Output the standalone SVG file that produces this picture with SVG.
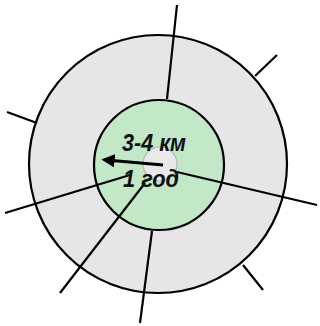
<svg xmlns="http://www.w3.org/2000/svg" width="320" height="326" viewBox="0 0 320 326">
<defs>
<style>
.ring{stroke:#000;stroke-width:2.2}
.ln{stroke:#000;stroke-width:2.2;fill:none;stroke-linecap:butt}
.lbl{font-family:"Liberation Sans",Arial,sans-serif;font-style:italic;font-weight:bold;fill:#111}
</style>
<marker id="ah" viewBox="0 0 10 10" refX="2" refY="5" markerWidth="4.2" markerHeight="4.2" orient="auto" markerUnits="strokeWidth">
<path d="M0,0 L10,5 L0,10 z" fill="#000"/>
</marker>
</defs>
<rect width="320" height="326" fill="#fff"/>
<g id="outer"><circle class="ring" cx="158" cy="164" r="129" fill="#e6e6e6"/></g>
<g id="inner"><circle class="ring" cx="159" cy="165" r="65" fill="#c2e8c8"/></g>
<g id="center"><circle cx="160" cy="164" r="17" fill="#e9e9e9" stroke="#b8b8b8" stroke-width="1.2"/></g>
<g id="connectors">
<line class="ln" x1="177" y1="5" x2="167" y2="99"/>
<line class="ln" x1="277" y1="55" x2="255" y2="76"/>
<line class="ln" x1="7" y1="112" x2="37" y2="123"/>
<line class="ln" x1="177" y1="172" x2="317" y2="205"/>
<line class="ln" x1="5" y1="213" x2="130" y2="175"/>
<line class="ln" x1="60" y1="293" x2="145" y2="183"/>
<line class="ln" x1="152" y1="231" x2="140" y2="323"/>
<line class="ln" x1="263" y1="290" x2="243" y2="265"/>
<line x1="163" y1="165" x2="112" y2="160.5" stroke="#000" stroke-width="3.2" marker-end="url(#ah)"/>
</g>
<g id="labels">
<text class="lbl" x="122" y="151" font-size="24" textLength="64" lengthAdjust="spacingAndGlyphs">3-4 км</text>
<text class="lbl" x="123" y="187" font-size="24" textLength="56" lengthAdjust="spacingAndGlyphs">1 год</text>
</g>
</svg>
